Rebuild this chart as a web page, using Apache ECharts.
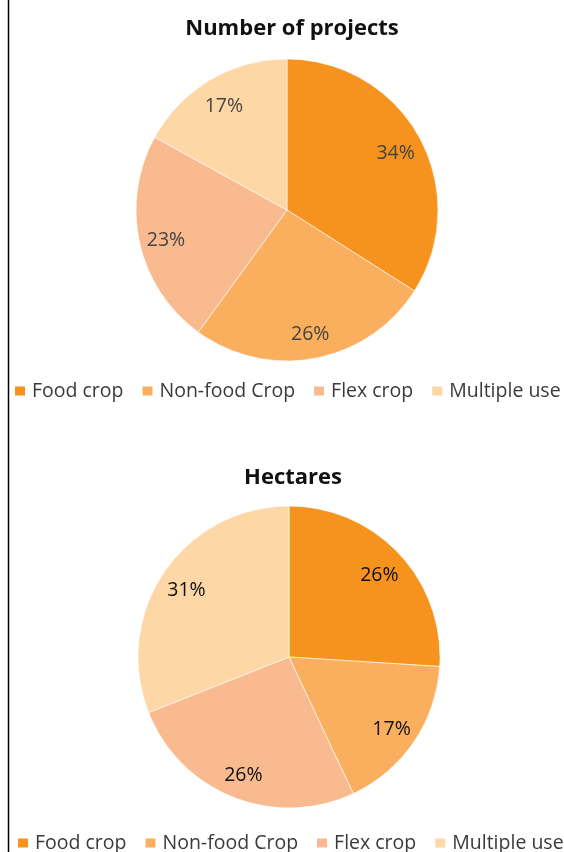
<!DOCTYPE html>
<html>
<head>
<meta charset="utf-8">
<script src="https://cdn.jsdelivr.net/npm/echarts@6/dist/echarts.min.js"></script>
<style>
  html, body { margin: 0; padding: 0; background: #fff; }
</style>
</head>
<body>
<div id="main" style="width:564px;height:852px;"></div>
<script>
// categories and values
var categories = ['Food crop', 'Non-food Crop', 'Flex crop', 'Multiple use'];
var projectShares = [34, 26, 23, 17];
var hectareShares = [26, 17, 26, 31];
var colors = ['#F6921E', '#FAAF5E', '#F9BA90', '#FDD7A5'];

function toData(values) {
    return categories.map(function (name, i) {
        return { name: name, value: values[i] };
    });
}

// full pie without labels
function basePie(values, center) {
    return {
        type: 'pie',
        center: center,
        radius: 151,
        startAngle: 90,
        clockwise: true,
        label: { show: false },
        labelLine: { show: false },
        itemStyle: { borderColor: '#fff', borderWidth: 0.6 },
        emphasis: { disabled: true },
        data: toData(values)
    };
}

// transparent ring, only used to put the labels at ~0.8 r
function labelRing(values, center, textColor) {
    return {
        type: 'pie',
        center: center,
        radius: [91, 151],
        startAngle: 90,
        clockwise: true,
        silent: true,
        legendHoverLink: false,
        itemStyle: { color: 'rgba(0,0,0,0)', borderWidth: 0 },
        label: {
            show: true,
            position: 'inside',
            formatter: '{c}%',
            fontFamily: 'Open Sans',
            fontSize: 19.5,
            color: textColor,
            offset: [0, 3]
        },
        labelLine: { show: false },
        emphasis: { disabled: true },
        data: toData(values)
    };
}

var legendText = { fontFamily: 'Open Sans', fontSize: 19.5, color: '#3a3a3a', padding: [0, 0, 0, 1] };

var myChart = echarts.init(document.getElementById('main'));
myChart.setOption({
    color: colors,
    animation: false,
    title: [{
        text: 'Number of projects',
        left: 287,
        textAlign: 'center',
        top: 13,
        textStyle: { fontFamily: 'Open Sans', fontWeight: 'bold', fontSize: 22, color: '#111' }
    }, {
        text: 'Hectares',
        left: 288,
        textAlign: 'center',
        top: 462,
        textStyle: { fontFamily: 'Open Sans', fontWeight: 'bold', fontSize: 22, color: '#111' }
    }],
    legend: [{
        data: categories,
        left: 8,
        top: 376,
        width: 800,
        icon: 'rect',
        itemWidth: 12,
        itemHeight: 11,
        itemGap: 17,
        selectedMode: false,
        textStyle: legendText
    }, {
        data: categories,
        left: 11,
        top: 828,
        width: 800,
        icon: 'rect',
        itemWidth: 12,
        itemHeight: 11,
        itemGap: 17,
        selectedMode: false,
        textStyle: legendText
    }],
    graphic: [{
        type: 'line',
        shape: { x1: 8.5, y1: 0, x2: 8.5, y2: 852 },
        style: { stroke: '#000', lineWidth: 1.5 }
    }],
    series: [
        basePie(projectShares, [287, 210]),
        labelRing(projectShares, [287, 210], '#444'),
        basePie(hectareShares, [289, 657]),
        labelRing(hectareShares, [289, 657], '#111')
    ]
});
</script>
</body>
</html>
